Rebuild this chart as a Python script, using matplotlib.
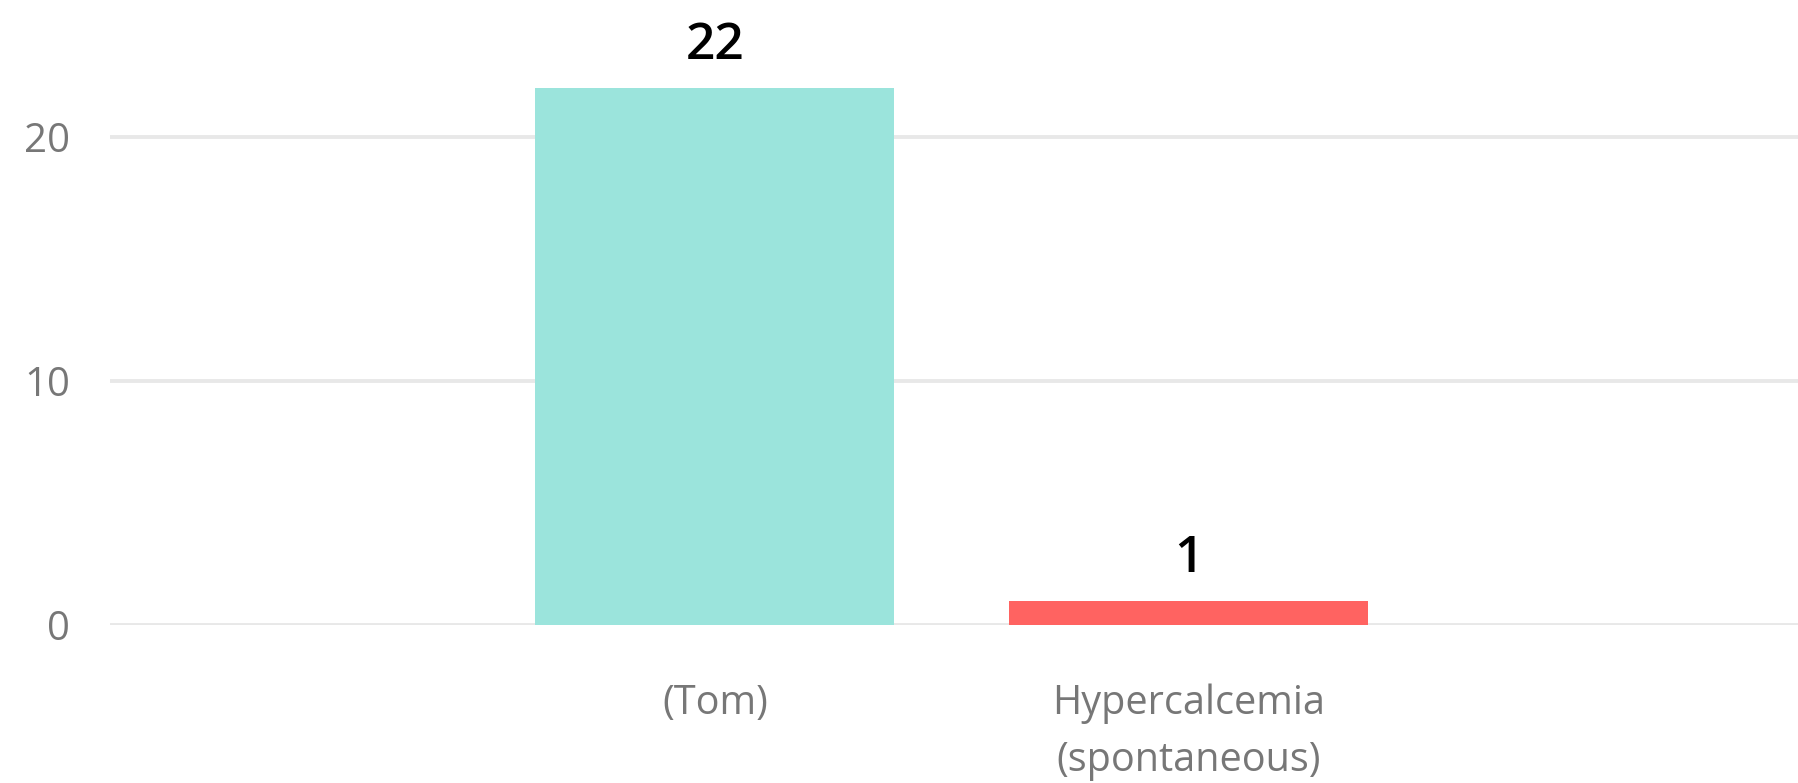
import matplotlib.pyplot as plt

# chart data
categories = ['(Tom)', 'Hypercalcemia\n(spontaneous)']
counts = [22, 1]
bar_colors = ['#9be4dc', '#ff6361']
y_ticks = [0, 10, 20]

plt.rcParams['font.family'] = ['Open Sans', 'DejaVu Sans']

fig = plt.figure(figsize=(17.98, 7.83), dpi=100)
ax = fig.add_axes([110 / 1798, 158 / 783, 1688 / 1798, 625 / 783])

x = list(range(len(categories)))
bars = ax.bar(x, counts, width=0.757, color=bar_colors, zorder=3)

# value labels above bars
ax.bar_label(bars, labels=[str(c) for c in counts], padding=12,
             fontsize=37, color='black', fontweight='semibold')

ax.set_xlim(-1.276, 2.285)
ax.set_ylim(0, 25.6)
ax.set_yticks(y_ticks)
ax.set_xticks(x)
ax.set_xticklabels(categories, linespacing=1.55)

ax.grid(axis='y', color='#e8e8e8', linewidth=2.8, zorder=0)
ax.set_axisbelow(True)
for s in ax.spines.values():
    s.set_visible(False)
ax.tick_params(axis='y', length=0, pad=29, labelsize=29, labelcolor='#777777')
ax.tick_params(axis='x', length=0, pad=42, labelsize=28.5, labelcolor='#777777')

fig.savefig('out.png', dpi=100)
